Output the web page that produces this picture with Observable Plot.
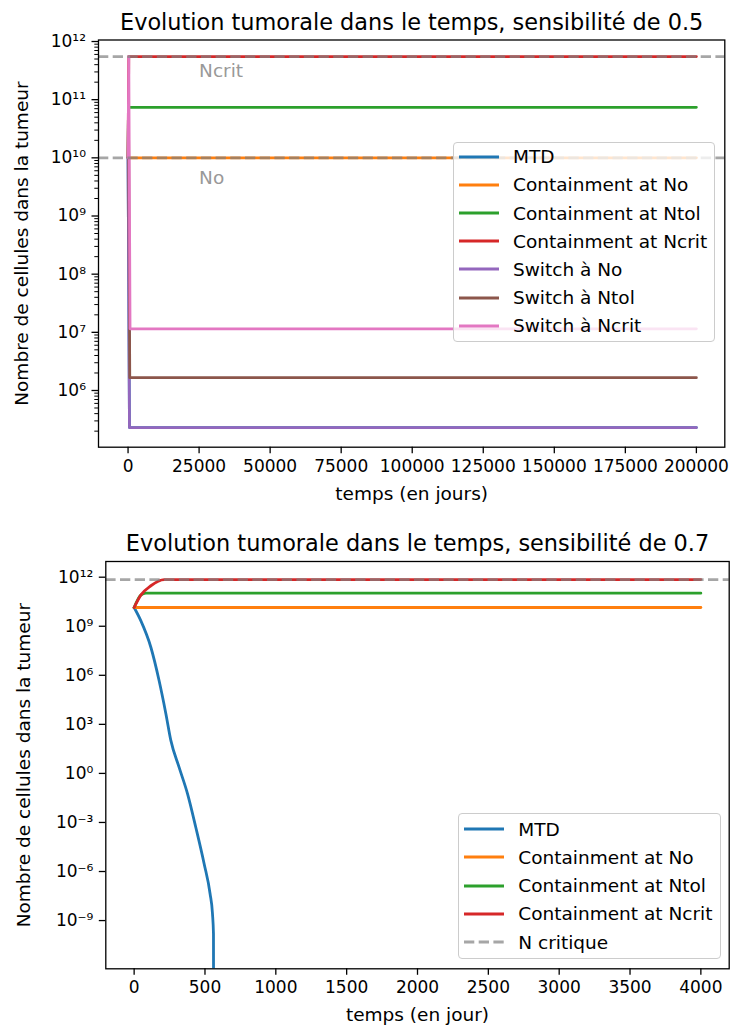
<!DOCTYPE html>
<html><head><meta charset="utf-8">
<script src="https://cdn.jsdelivr.net/npm/d3@7"></script>
<script src="https://cdn.jsdelivr.net/npm/@observablehq/plot@0.6"></script>
<style>
body{margin:0;background:#fff;}
#wrap{position:relative;width:732px;height:1030px;font-family:"DejaVu Sans";}
.panel{position:absolute;left:0;}
.legend{position:absolute;background:rgba(255,255,255,0.8);border:1px solid #ccc;border-radius:4px;box-sizing:border-box;font-family:"DejaVu Sans";font-size:18.5px;color:#000;}
.row{position:absolute;left:0;height:28px;display:flex;align-items:center;white-space:nowrap;}
.row svg{margin-left:5px;margin-right:14px;display:block;}
</style></head><body><div id="wrap"></div>
<script>
// ---------- Data : sensibilité 0.5 (t en jours, N cellules) ----------
const t05_mtd = [0, 500, 200000];
const n05_mtd = [1e10, 2.3e5, 2.3e5];
const t05_contNo = [0, 200000];
const n05_contNo = [1e10, 1e10];
const t05_contNtol = [0, 150, 200000];
const n05_contNtol = [1e10, 7.4e10, 7.4e10];
const t05_contNcrit = [0, 250, 200000];
const n05_contNcrit = [1e10, 5.5e11, 5.5e11];
const t05_swNo = [0, 500, 200000];
const n05_swNo = [1e10, 2.3e5, 2.3e5];
const t05_swNtol = [0, 150, 600, 200000];
const n05_swNtol = [1e10, 7.4e10, 1.66e6, 1.66e6];
const t05_swNcrit = [0, 250, 700, 200000];
const n05_swNcrit = [1e10, 5.5e11, 1.15e7, 1.15e7];
const ref05 = [5.5e11, 1e10];            // Ncrit, No (lignes pointillées)
const ref05Labels = ["Ncrit", "No"];
const ref05LabelT = [25000, 25000];
const ref05LabelN = [2.5e11, 3.6e9];

// ---------- Data : sensibilité 0.7 ----------
const t07_mtd = [0, 47, 118, 176, 224, 259, 317, 377, 435, 494, 536, 553, 560, 560.5];
const n07_mtd = [1.4e10, 2.2e9, 5.2e7, 4.8e5, 4.5e3, 105, 2.4, 0.056, 5.1e-4, 3e-6, 4.4e-8, 2.6e-9, 1.5e-10, 1e-13];
const t07_contNo = [0, 4000];
const n07_contNo = [1.4e10, 1.4e10];
const t07_contNtol = [0, 47, 83, 4000];
const n07_contNtol = [1.4e10, 8e10, 1.05e11, 1.05e11];
const t07_contNcrit = [0, 47, 118, 212, 4000];
const n07_contNcrit = [1.4e10, 8e10, 3e11, 7.2e11, 7.2e11];
const ref07 = [7.2e11];                  // N critique

// ---------- Ticks ----------
const xTicks05 = [0, 25000, 50000, 75000, 100000, 125000, 150000, 175000, 200000];
const yTicks05 = [1e6, 1e7, 1e8, 1e9, 1e10, 1e11, 1e12];
const xTicks07 = [0, 500, 1000, 1500, 2000, 2500, 3000, 3500, 4000];
const yTicks07 = [1e12, 1e9, 1e6, 1e3, 1e0, 1e-3, 1e-6, 1e-9];

// ---------- Texts ----------
const names05 = ["MTD", "Containment at No", "Containment at Ntol", "Containment at Ncrit", "Switch à No", "Switch à Ntol", "Switch à Ncrit"];
const names07 = ["MTD", "Containment at No", "Containment at Ntol", "Containment at Ncrit", "N critique"];
const title05 = "Evolution tumorale dans le temps, sensibilité de 0.5";
const title07 = "Evolution tumorale dans le temps, sensibilité de 0.7";
const ylab = "Nombre de cellules dans la tumeur";
const xlab05 = "temps (en jours)";
const xlab07 = "temps (en jour)";

const colors = ["#1f77b4", "#ff7f0e", "#2ca02c", "#d62728", "#9467bd", "#8c564b", "#e377c2"];
const GREY = "#808080", GREY_OP = 0.7, DASH = "10.3,4.4", LW = 2.8;

const supMap = {"-":"⁻","0":"⁰","1":"¹","2":"²","3":"³","4":"⁴","5":"⁵","6":"⁶","7":"⁷","8":"⁸","9":"⁹"};
const fmtPow = d => "10" + String(Math.round(Math.log10(d))).replace(/[-0-9]/g, c => supMap[c]);
const pts = (t, n) => t.map((v, i) => ({t: v, n: n[i]}));

const series05 = [
  [t05_mtd, n05_mtd], [t05_contNo, n05_contNo], [t05_contNtol, n05_contNtol], [t05_contNcrit, n05_contNcrit],
  [t05_swNo, n05_swNo], [t05_swNtol, n05_swNtol], [t05_swNcrit, n05_swNcrit]
];
const series07 = [
  [t07_mtd, n07_mtd, "monotone-x"], [t07_contNo, n07_contNo, "linear"], [t07_contNtol, n07_contNtol, "monotone-x"], [t07_contNcrit, n07_contNcrit, "monotone-x"]
];

const minor05 = [];
for (let e = 5; e <= 11; e++) for (let m = 2; m <= 9; m++) minor05.push(m * Math.pow(10, e));

const wrap = document.getElementById("wrap");

// ---------- Top chart ----------
const M1 = {left: 98, right: 7.7, top: 39.5, bottom: 68.3};
const p1 = Plot.plot({
  width: 732, height: 515,
  marginLeft: M1.left, marginRight: M1.right, marginTop: M1.top, marginBottom: M1.bottom,
  style: {fontFamily: "DejaVu Sans", fontSize: "17px", color: "#000", background: "transparent"},
  x: {domain: [-10400, 210000]},
  y: {type: "log", domain: [Math.pow(10, 5.025), Math.pow(10, 12.026)]},
  marks: [
    ...series05.map(([t, n], i) => Plot.line(pts(t, n), {x: "t", y: "n", stroke: colors[i], strokeWidth: LW, clip: true})),
    Plot.ruleY(ref05, {stroke: GREY, strokeOpacity: GREY_OP, strokeWidth: LW, strokeDasharray: DASH}),
    Plot.text(ref05Labels.map((s, i) => ({s, t: ref05LabelT[i], n: ref05LabelN[i]})), {x: "t", y: "n", text: "s", textAnchor: "start", lineAnchor: "bottom", fill: "#999", fontSize: 18.5}),
    Plot.frame({stroke: "#000", strokeWidth: 1.3}),
    Plot.axisX(xTicks05, {tickSize: 6.5, tickPadding: 6, tickFormat: d => String(d), label: null, strokeWidth: 1.3, stroke: "#000"}),
    Plot.axisY(yTicks05, {tickSize: 6.5, tickPadding: 6, tickFormat: fmtPow, label: null, strokeWidth: 1.3, stroke: "#000"}),
    Plot.axisY(minor05.filter(v => v > Math.pow(10, 5.025) && v < Math.pow(10, 12.026)), {tickSize: 3.7, tickFormat: () => "", label: null, strokeWidth: 1, stroke: "#000"}),
    Plot.text([title05], {frameAnchor: "top", text: d => d, dy: -10, lineAnchor: "bottom", fontSize: 22.4, fill: "#000"}),
    Plot.text([xlab05], {frameAnchor: "bottom", text: d => d, dy: 47.3, lineAnchor: "middle", fontSize: 18.5, fill: "#000"}),
    Plot.text([ylab], {frameAnchor: "left", text: d => d, dx: -76.3, rotate: -90, textAnchor: "middle", lineAnchor: "middle", fontSize: 18.5, fill: "#000"})
  ]
});
p1.classList.add("panel"); p1.style.top = "0px";
wrap.appendChild(p1);

// ---------- Bottom chart ----------
const M2 = {left: 105.3, right: 3.3, top: 46, bottom: 61.7};
const p2 = Plot.plot({
  width: 732, height: 515,
  marginLeft: M2.left, marginRight: M2.right, marginTop: M2.top, marginBottom: M2.bottom,
  style: {fontFamily: "DejaVu Sans", fontSize: "17px", color: "#000", background: "transparent"},
  x: {domain: [-200, 4200]},
  y: {type: "log", domain: [Math.pow(10, -11.95), Math.pow(10, 12.96)]},
  marks: [
    ...series07.map(([t, n, c], i) => Plot.line(pts(t, n), {x: "t", y: "n", stroke: colors[i], strokeWidth: LW, curve: c, clip: true})),
    Plot.ruleY(ref07, {stroke: GREY, strokeOpacity: GREY_OP, strokeWidth: LW, strokeDasharray: DASH}),
    Plot.frame({stroke: "#000", strokeWidth: 1.3}),
    Plot.axisX(xTicks07, {tickSize: 6.5, tickPadding: 6, tickFormat: d => String(d), label: null, strokeWidth: 1.3, stroke: "#000"}),
    Plot.axisY(yTicks07, {tickSize: 6.5, tickPadding: 6, tickFormat: fmtPow, label: null, strokeWidth: 1.3, stroke: "#000"}),
    Plot.text([title07], {frameAnchor: "top", text: d => d, dy: -11, lineAnchor: "bottom", fontSize: 22.4, fill: "#000"}),
    Plot.text([xlab07], {frameAnchor: "bottom", text: d => d, dy: 46.7, lineAnchor: "middle", fontSize: 18.5, fill: "#000"}),
    Plot.text([ylab], {frameAnchor: "left", text: d => d, dx: -81.3, rotate: -90, textAnchor: "middle", lineAnchor: "middle", fontSize: 18.5, fill: "#000"})
  ]
});
p2.classList.add("panel"); p2.style.top = "515px";
wrap.appendChild(p2);

// ---------- Legends ----------
function legend(names, box, dashedLast) {
  const div = document.createElement("div");
  div.className = "legend";
  Object.assign(div.style, {left: box.x + "px", top: box.y + "px", width: box.w + "px", height: box.h + "px"});
  names.forEach((name, i) => {
    const row = document.createElement("div");
    row.className = "row";
    row.style.top = (box.first + 28.2 * i - 14 - 1) + "px";
    const dashed = dashedLast && i === names.length - 1;
    const col = dashed ? GREY : colors[i];
    row.innerHTML = `<svg width="40" height="6"><line x1="0" x2="40" y1="3" y2="3" stroke="${col}" stroke-width="${LW}" ${dashed ? `stroke-opacity="${GREY_OP}" stroke-dasharray="${DASH}"` : ""}/></svg><span>${name}</span>`;
    div.appendChild(row);
  });
  wrap.appendChild(div);
}
legend(names05, {x: 453, y: 141.7, w: 262, h: 200.3, first: 15}, false);
legend(names07, {x: 458.3, y: 813.3, w: 262.7, h: 145.7, first: 16}, true);
</script></body></html>
